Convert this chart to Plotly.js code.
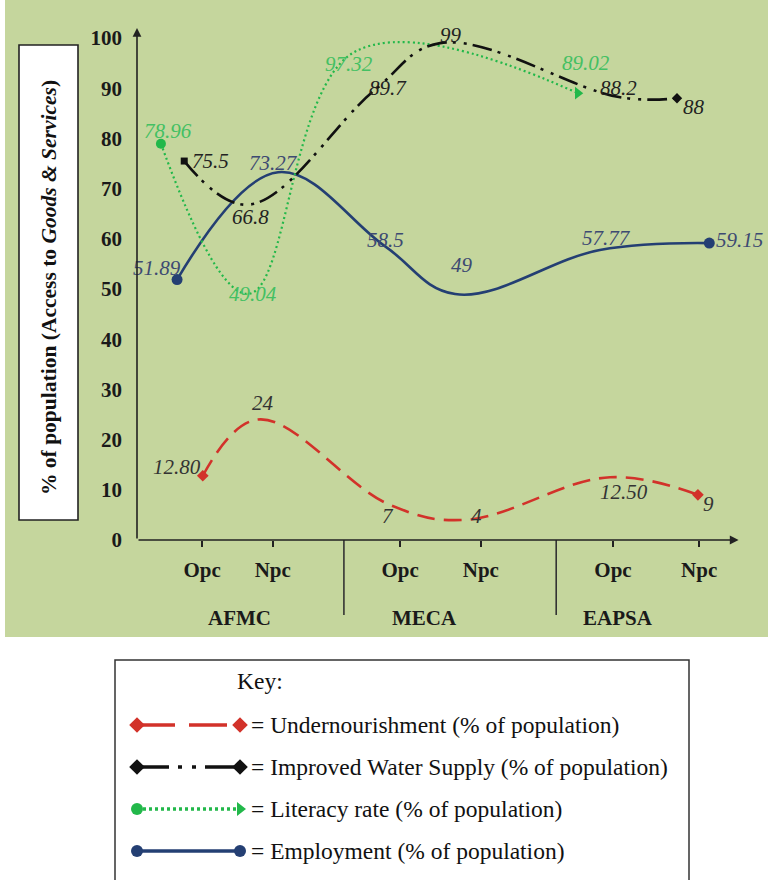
<!DOCTYPE html>
<html>
<head>
<meta charset="utf-8">
<script src="https://cdn.plot.ly/plotly-3.0.1.min.js"></script>
<style>html,body{margin:0;padding:0;background:#fff;}#chart{width:768px;height:880px;}</style>
</head>
<body>
<div id="chart"></div>
<script>
// ---- data ----
const categories = ["Opc", "Npc", "Opc", "Npc", "Opc", "Npc"];
const groups = ["AFMC", "MECA", "EAPSA"];
const yTicks = [0, 10, 20, 30, 40, 50, 60, 70, 80, 90, 100];

const undernourishment = [12.80, 24, 7, 4, 12.50, 9];
const undernourishmentLabels = ["12.80", "24", "7", "4", "12.50", "9"];
const waterSupply = [75.5, 66.8, 89.7, 99, 88.2, 88];
const waterSupplyLabels = ["75.5", "66.8", "89.7", "99", "88.2", "88"];
const literacy = [78.96, 49.04, 97.32, 89.02];
const literacyLabels = ["78.96", "49.04", "97.32", "89.02"];
const employment = [51.89, 73.27, 58.5, 49, 57.77, 59.15];
const employmentLabels = ["51.89", "73.27", "58.5", "49", "57.77", "59.15"];

const seriesNames = [
  "Undernourishment (% of population)",
  "Improved Water Supply (% of population)",
  "Literacy rate (% of population)",
  "Employment (% of population)"
];

// ---- positions (horizontal placement of drawn points, in axis units) ----
const tickPos = [10.9, 22.7, 44.0, 57.5, 79.6, 94.0];
const groupPos = [17.2, 48.0, 80.4];
const separatorPos = [34.6, 70.1];
const undernourishmentX = [11.0, 20.2, 42.3, 54.8, 79.1, 93.8];
const waterSupplyX = [7.9, 18.6, 39.8, 50.7, 80.8, 90.3];
const literacyX = [4.0, 18.6, 36.5, 73.7];
const employmentX = [6.7, 23.6, 41.5, 53.2, 77.4, 95.7];

// ---- styles ----
const SERIF = "Liberation Serif, Times New Roman, serif";
const styles = [
  {color: "#d2322a", dash: "18px,9px", keyDash: "38px,14px", width: 2.6, sym: ["diamond", "diamond"], size: [9, 9], label: "#333333",
   off: [[-26, 9], [5, 17], [-2, -11], [12, 4], [14, -15], [11, -9]]},
  {color: "#111111", dash: "20px,6px,3px,8px,3px,6px", keyDash: "32px,9px,4px,10px,4px,9px", width: 2.6, sym: ["square", "diamond"], size: [7, 8], label: "#222222",
   off: [[26, 0], [2, -12], [13, 2], [11, 8], [-2, 9], [17, -9]]},
  {color: "#22b84a", dash: "2px,3px", keyDash: "3px,3px", width: 2.2, sym: ["circle", "triangle-right"], size: [10, 11], label: "#44c063",
   off: [[7, 13], [5, 0], [-6, -12], [8, 30]]},
  {color: "#243f73", dash: "solid", keyDash: "solid", width: 2.6, sym: ["circle", "circle"], size: [11, 11], label: "#3d4a72",
   off: [[-20, 12], [-5, 9], [0, 6], [7, 29], [7, 12], [30, 3]]}
];

const seriesX = [undernourishmentX, waterSupplyX, literacyX, employmentX];
const seriesY = [undernourishment, waterSupply, literacy, employment];
const seriesLabels = [undernourishmentLabels, waterSupplyLabels, literacyLabels, employmentLabels];

const traces = [];
const annotations = [];
const shapes = [];

// green background
shapes.push({type: "rect", xref: "paper", yref: "paper", x0: 5/768, x1: 1, y0: (880-637)/880, y1: 1,
  fillcolor: "#c5d69d", line: {width: 0}, layer: "below"});

// series
[3, 0, 2, 1].forEach(function (i) {
  const st = styles[i];
  const n = seriesY[i].length;
  const sizes = seriesY[i].map(function (_, k) { return k === 0 ? st.size[0] : (k === n - 1 ? st.size[1] : 0); });
  const syms = seriesY[i].map(function (_, k) { return k === n - 1 ? st.sym[1] : st.sym[0]; });
  traces.push({
    x: seriesX[i], y: seriesY[i], type: "scatter", mode: "lines+markers", name: seriesNames[i],
    line: {color: st.color, width: st.width, dash: st.dash, shape: "spline", smoothing: 1.1},
    marker: {color: st.color, size: sizes, symbol: syms, opacity: 1, line: {width: 0}},
    showlegend: false, cliponaxis: false, hoverinfo: "x+y"
  });
  seriesY[i].forEach(function (v, k) {
    annotations.push({
      x: seriesX[i][k], y: v, xref: "x", yref: "y", text: "<i>" + seriesLabels[i][k] + "</i>",
      showarrow: false, xshift: st.off[k][0], yshift: st.off[k][1], xanchor: "center", yanchor: "middle",
      font: {family: SERIF, size: 21, color: st.label}
    });
  });
});

// axis arrows
annotations.push({x: 0, y: 102, xref: "x", yref: "y", axref: "x", ayref: "y", ax: 0, ay: 0, text: "",
  showarrow: true, arrowhead: 2, arrowsize: 1.1, arrowwidth: 1.6, arrowcolor: "#222"});
annotations.push({x: 100.6, y: 0, xref: "x", yref: "y", axref: "x", ayref: "y", ax: 0, ay: 0, text: "",
  showarrow: true, arrowhead: 2, arrowsize: 1.1, arrowwidth: 1.6, arrowcolor: "#222"});

// group separators and labels
separatorPos.forEach(function (p) {
  shapes.push({type: "line", xref: "x", yref: "paper", x0: p, x1: p, y0: (880-540)/880, y1: (880-615)/880,
    line: {color: "#333", width: 1.6}});
});
groups.forEach(function (g, k) {
  annotations.push({x: groupPos[k], y: (880-618)/880, xref: "x", yref: "paper", text: g, showarrow: false,
    xanchor: "center", yanchor: "middle",
    font: {family: SERIF, size: 21, color: "#1a1a1a", weight: 700}});
});

// y title box
shapes.push({type: "rect", xref: "paper", yref: "paper", x0: 19/768, x1: 78/768, y0: (880-520)/880, y1: (880-45)/880,
  fillcolor: "#ffffff", line: {color: "#222", width: 1.6}, layer: "below"});
annotations.push({x: 49/768, y: (880-288)/880, xref: "paper", yref: "paper", textangle: -90, showarrow: false,
  xanchor: "center", yanchor: "middle",
  text: "% of population (Access to <i>Goods &amp; Services</i>)",
  font: {family: SERIF, size: 21.5, color: "#111", weight: 700}});

// legend (key) box
shapes.push({type: "rect", xref: "paper", yref: "paper", x0: 115/768, x1: 689/768, y0: -0.01, y1: (880-660)/880,
  fillcolor: "#ffffff", line: {color: "#333", width: 1.5}, layer: "below"});
annotations.push({x: 260/768, y: (880-681)/880, xref: "paper", yref: "paper", text: "Key:", showarrow: false,
  xanchor: "center", yanchor: "middle",
  font: {family: SERIF, size: 23.5, color: "#111"}});
seriesNames.forEach(function (nm, i) {
  const st = styles[i];
  traces.push({
    x: [0, 1], y: [i, i], xaxis: "x2", yaxis: "y2", type: "scatter", mode: "lines+markers",
    line: {color: st.color, width: 3.5, dash: st.keyDash},
    marker: {color: st.color, size: [12, 12], opacity: 1, line: {width: 0},
      symbol: [st.sym[0] === "square" ? "diamond" : st.sym[0], st.sym[1]]},
    showlegend: false, hoverinfo: "skip", cliponaxis: false
  });
  annotations.push({x: 249/768, y: i, xref: "paper", yref: "y2", xanchor: "left", yanchor: "middle",
    text: "= " + nm, showarrow: false,
    font: {family: SERIF, size: 23.5, color: "#111"}});
});

const layout = {
  width: 768, height: 880,
  margin: {l: 0, r: 0, t: 0, b: 0},
  paper_bgcolor: "#ffffff", plot_bgcolor: "rgba(0,0,0,0)",
  showlegend: false,
  xaxis: {domain: [137/768, 735/768], range: [0, 100], showgrid: false, zeroline: false, showline: false,
    anchor: "y",
    tickmode: "array", tickvals: tickPos, ticktext: categories, ticks: "outside", ticklen: 6, tickwidth: 1.5, tickcolor: "#222",
    ticklabelstandoff: 5, tickfont: {family: SERIF, size: 21, color: "#1a1a1a", weight: 700}, fixedrange: true},
  yaxis: {domain: [(880-540)/880, (880-18)/880], range: [0, 104], showgrid: false, zeroline: false, showline: false,
    anchor: "x",
    tickmode: "array", tickvals: yTicks, ticks: "", ticklabelstandoff: 14,
    tickfont: {family: SERIF, size: 21, color: "#1a1a1a", weight: 700}, fixedrange: true},
  xaxis2: {domain: [137/768, 240/768], range: [0, 1], visible: false, anchor: "y2", fixedrange: true},
  yaxis2: {domain: [(880-872)/880, (880-704)/880], range: [3.5, -0.5], visible: false, anchor: "x2", fixedrange: true},
  shapes: shapes,
  annotations: annotations
};

Plotly.newPlot("chart", traces, layout, {staticPlot: true, displayModeBar: false});
</script>
</body>
</html>
